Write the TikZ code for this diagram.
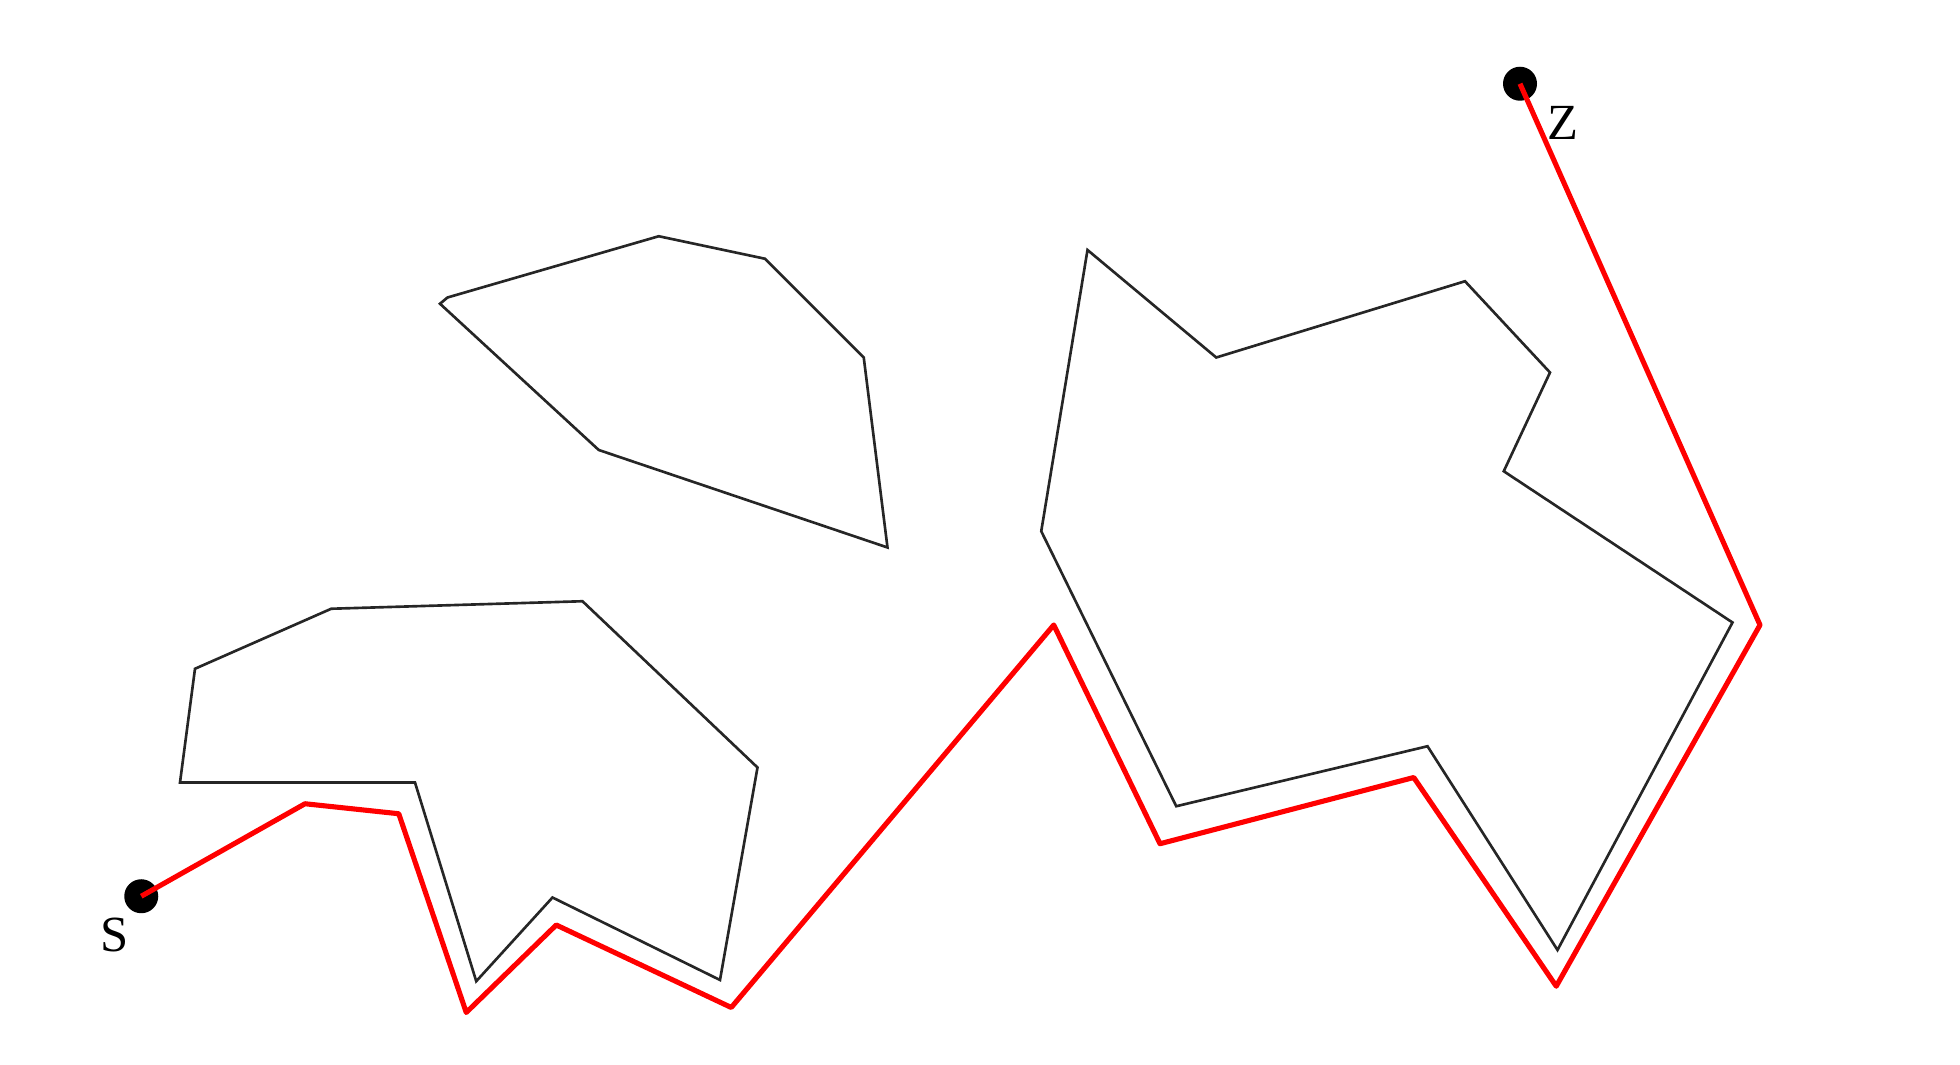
\documentclass[tikz,border=0pt]{standalone}
\usepackage{amsmath}
\usepackage{fontspec}
\setmainfont{Liberation Serif}
\usepackage{tikz}
\usetikzlibrary{positioning}

\begin{document}
\begin{tikzpicture}[x=0.1mm, y=-0.1mm,
        obstacle/.style={draw=black!85, line width=0.75pt, line join=miter},
        route/.style={draw=red, line width=1.45pt, line join=round},
        endpoint/.style={circle, fill=black, inner sep=0pt, minimum size=3.4mm}]
        \useasboundingbox (0,0) rectangle (1960,1065);

        % obstacles
        \draw[obstacle] (180,782.5) -- (195,668.75) -- (331.25,608.75) -- (582.5,601.25) -- (757.5,767.5)
            -- (720,980) -- (552.5,897.5) -- (476.25,981.25) -- (415,782.5) -- cycle;
        \draw[obstacle] (440,303.75) -- (447.5,297.5) -- (658.75,236.25) -- (765,258.75) -- (863.75,357.5)
            -- (887.5,547.5) -- (598.75,450) -- cycle;
        \draw[obstacle] (1087.5,250) -- (1216.25,357.5) -- (1465,281.25) -- (1550,372.5) -- (1503.75,471.25)
            -- (1732.5,622.5) -- (1557.5,950) -- (1427.5,746.25) -- (1176.25,806.25) -- (1041.25,531.25) -- cycle;

        % start and goal
        \node[endpoint] (s) at (141.25,896.25) {};
        \node[endpoint] (z) at (1520,83.75) {};
        \node[font=\Large] (slabel) at (115,935) {S};
        \node[font=\Large] (zlabel) at (1562.5,122.5) {Z};

        % path corners
        \coordinate (p1) at (305,803.75);
        \coordinate (p2) at (398.75,813.75);
        \coordinate (p3) at (466.25,1012.5);
        \coordinate (p4) at (556.25,925);
        \coordinate (p5) at (731.25,1007.5);
        \coordinate (p6) at (1053.75,625);
        \coordinate (p7) at (1160,843.75);
        \coordinate (p8) at (1413.75,777.5);
        \coordinate (p9) at (1556.25,986.25);
        \coordinate (p10) at (1760,625);

        \draw[route] (s.center) -- (p1) -- (p2) -- (p3) -- (p4) -- (p5) -- (p6) -- (p7) -- (p8)
            -- (p9) -- (p10) -- (z.center);
    \end{tikzpicture}
\end{document}
